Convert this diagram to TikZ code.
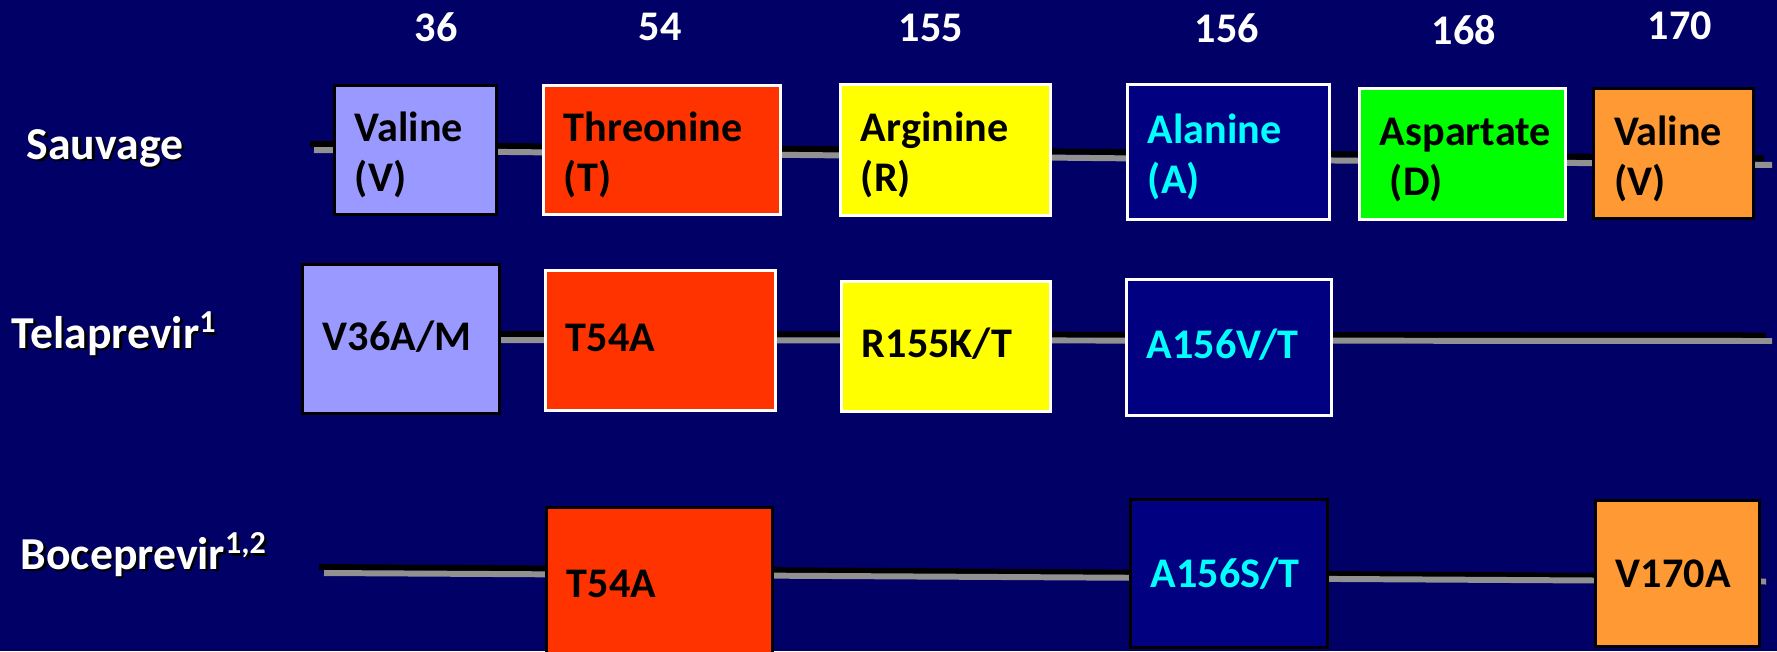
\documentclass[tikz,border=0pt]{standalone}
\usepackage{fontspec}
\setmainfont{Carlito}
\usetikzlibrary{positioning}

\definecolor{fond}{RGB}{0,0,102}
\definecolor{marine}{RGB}{0,0,128}
\definecolor{lila}{RGB}{153,153,255}
\definecolor{rouge}{RGB}{255,51,0}
\definecolor{jaune}{RGB}{255,255,0}
\definecolor{vert}{RGB}{0,255,0}
\definecolor{orange}{RGB}{255,153,51}
\definecolor{cyan}{RGB}{0,255,255}
\definecolor{gris}{RGB}{145,145,145}

\begin{document}
\begin{tikzpicture}[x=0.01cm,y=-0.01cm,
 aa/.style={draw,line width=0.85pt,inner xsep=0.2cm,inner ysep=0pt,align=left,font=\bfseries\fontsize{12}{14.2}\selectfont},
 aa2/.style={aa,text height=9.5pt,text depth=14.2pt},
 aa1/.style={aa,text height=9.3pt,text depth=3pt},
 lab/.style={anchor=base west,inner sep=0pt,text=white,font=\bfseries\fontsize{13}{15}\selectfont},
 numpos/.style={text=white,font=\bfseries\fontsize{12}{14}\selectfont},
 fil/.style={line width=1.7pt,black},
 filg/.style={line width=1.7pt,gris}]
\fill[fond] (0,0) rectangle (1777,651);
\useasboundingbox (0,0) rectangle (1777,651);

% positions
\node[numpos] (p36) at (436,27) {36};
\node[numpos] (p54) at (660,27) {54};
\node[numpos] (p155) at (931,28) {155};
\node[numpos] (p156) at (1227,28) {156};
\node[numpos] (p168) at (1464,30) {168};
\node[numpos] (p170) at (1680,26) {170};

% row labels (with shadow)
\node[lab,text=black] at (28.5,161.5) {Sauvage};
\node[lab] (sauv) at (26,159) {Sauvage};
\node[lab,text=black] at (13.5,350.5) {Telaprevir\textsuperscript{1}};
\node[lab] (tela) at (11,348) {Telaprevir\textsuperscript{1}};
\node[lab,text=black] at (22.5,571.5) {Boceprevir\textsuperscript{1,2}};
\node[lab] (boce) at (20,569) {Boceprevir\textsuperscript{1,2}};

% backbones
\coordinate (s0) at (310,144); \coordinate (s1) at (1764,158.5);
\coordinate (s2) at (314,150); \coordinate (s3) at (1772,165);
\draw[fil] (s0) -- (s1); \draw[filg] (s2) -- (s3);
\coordinate (t0) at (420,334); \coordinate (t1) at (1766,335.5);
\coordinate (t2) at (420,340); \coordinate (t3) at (1772,341);
\draw[fil] (t0) -- (t1); \draw[filg] (t2) -- (t3);
\coordinate (b0) at (319,567); \coordinate (b1) at (1758,577);
\coordinate (b2) at (324,573); \coordinate (b3) at (1766,581.5);
\draw[fil] (b0) -- (b1); \draw[filg] (b2) -- (b3);

% Sauvage
\node[aa2,fill=lila,text width=1.21cm,minimum height=1.28cm] (v36) at (415.5,150) {Valine\\(V)};
\node[aa2,fill=rouge,draw=white,text width=1.96cm,minimum height=1.28cm] (t54) at (662,150) {Threonine\\(T)};
\node[aa2,fill=jaune,draw=white,text width=1.69cm,minimum height=1.30cm] (r155) at (945.5,150) {Arginine\\(R)};
\node[aa2,fill=marine,draw=white,text=cyan,text width=1.61cm,minimum height=1.34cm] (a156) at (1228.5,152) {Alanine\\(A)};
\node[aa2,fill=vert,draw=white,text width=1.65cm,minimum height=1.30cm] (d168) at (1462.5,154) {Aspartate\\\hspace*{0.1cm}(D)};
\node[aa2,fill=orange,text width=1.19cm,minimum height=1.29cm] (v170) at (1673.5,153.5) {Valine\\(V)};

% Telaprevir
\node[aa1,fill=lila,text width=1.56cm,minimum height=1.48cm] (tv36) at (401,339) {V36A/M};
\node[aa1,fill=rouge,draw=white,text width=1.89cm,minimum height=1.39cm] (tt54) at (660.5,340.5) {T54A};
\node[aa1,fill=jaune,draw=white,text width=1.68cm,minimum height=1.29cm] (tr155) at (946,346.5) {R155K/T};
\node[aa1,fill=marine,draw=white,text=cyan,text width=1.64cm,minimum height=1.35cm] (ta156) at (1229,347.5) {A156V/T};

% Boceprevir
\node[aa,fill=rouge,text width=1.85cm,minimum height=1.52cm] (bt54) at (659.5,584) {T54A};
\node[aa,fill=marine,text=cyan,text width=1.56cm,minimum height=1.47cm] (ba156) at (1229,573.5) {A156S/T};
\node[aa,fill=orange,text width=1.23cm,minimum height=1.45cm] (bv170) at (1677.5,573.5) {V170A};
\end{tikzpicture}
\end{document}
